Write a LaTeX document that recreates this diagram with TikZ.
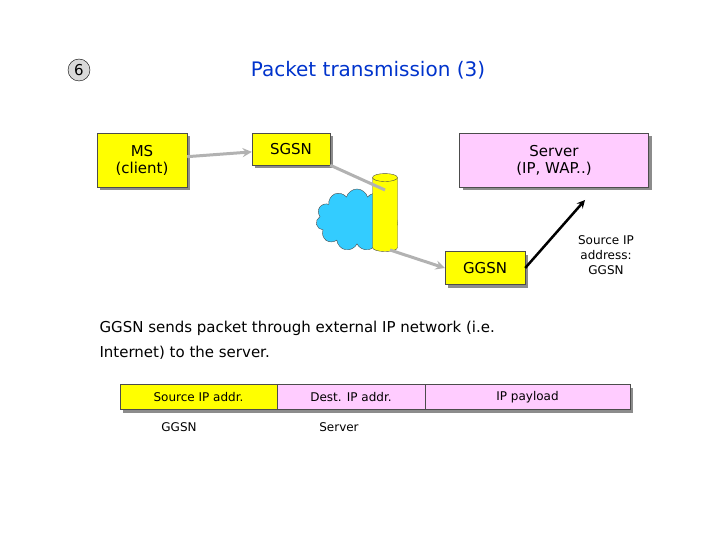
\documentclass[tikz,border=0pt]{standalone}
\usepackage{fontspec}
\setmainfont{DejaVu Sans}
\usetikzlibrary{shapes.geometric,shapes.symbols,shadows}
\definecolor{boxyellow}{RGB}{255,255,0}
\definecolor{boxpink}{RGB}{255,204,255}
\definecolor{cloudblue}{RGB}{51,204,255}
\definecolor{titleblue}{RGB}{0,51,204}
\begin{document}
\begin{tikzpicture}[x=1pt,y=-1pt,>=stealth,
    box/.style={draw=black!70,rectangle,minimum height=32pt,inner sep=2pt,align=center,font=\fontsize{15}{17}\selectfont,drop shadow={shadow xshift=3pt,shadow yshift=-3pt,fill=black!45,opacity=1}},
    cell/.style={draw=black!70,rectangle,minimum height=25pt,inner sep=0pt,font=\fontsize{12}{14}\selectfont,drop shadow={shadow xshift=3pt,shadow yshift=-3pt,fill=black!45,opacity=1}},
    link/.style={->,draw=black!30,line width=3pt}]
    \useasboundingbox (0,0) rectangle (720,540);

    \node (num) at (79,70) [circle,draw,fill=black!15,minimum size=22pt,inner sep=0pt,font=\fontsize{15}{17}\selectfont]{6};
    \node (title) at (368,70) [text=titleblue,font=\fontsize{20}{24}\selectfont]{Packet transmission (3)};

    \node (ms) at (142,160) [box,fill=boxyellow,minimum width=90pt,minimum height=54pt]{MS\\(client)};
    \node (sgsn) at (291,149) [box,fill=boxyellow,minimum width=78pt]{SGSN};
    \node (server) at (554,160) [box,fill=boxpink,minimum width=189pt,minimum height=54pt]{Server\\(IP, WAP..)};
    \node (ggsn) at (485,268) [box,fill=boxyellow,minimum width=80pt,minimum height=33pt]{GGSN};

    % external network
    \node (net) at (357,220) [cloud,cloud puffs=11,aspect=1.4,draw=black!70,fill=cloudblue,minimum width=82pt,minimum height=62pt]{};
    \node (pipe) at (385,216) [cylinder,shape border rotate=90,draw=black!70,fill=boxyellow,minimum width=25pt,minimum height=78pt,aspect=1.2]{};
    \coordinate (in) at (385,190);
    \coordinate (out) at (390,250);

    \draw[link] (ms) -- (sgsn);
    \draw[link,-] (sgsn.south east) -- (in);
    \draw[link] (out) -- (ggsn.west);
    \draw[->,line width=2.5pt] (ggsn.east) -- (585,200) coordinate (tip);
    \node (src) at (606,255) [align=center,font=\fontsize{12}{15}\selectfont]{Source IP\\address:\\GGSN};

    \node (text) at (96,340) [anchor=west,align=left,font=\fontsize{15}{25}\selectfont]{GGSN sends packet through external IP network (i.e.\\Internet) to the server.};

    \node (c1) at (198.5,397) [cell,fill=boxyellow,minimum width=157pt]{Source IP addr.};
    \node (c2) at (351,397) [cell,fill=boxpink,minimum width=148pt]{Dest. IP addr.};
    \node (c3) at (527.5,397) [cell,fill=boxpink,minimum width=205pt]{IP payload};
    \node (l1) at (179,427) [font=\fontsize{12}{14}\selectfont]{GGSN};
    \node (l2) at (339,427) [font=\fontsize{12}{14}\selectfont]{Server};
\end{tikzpicture}
\end{document}
